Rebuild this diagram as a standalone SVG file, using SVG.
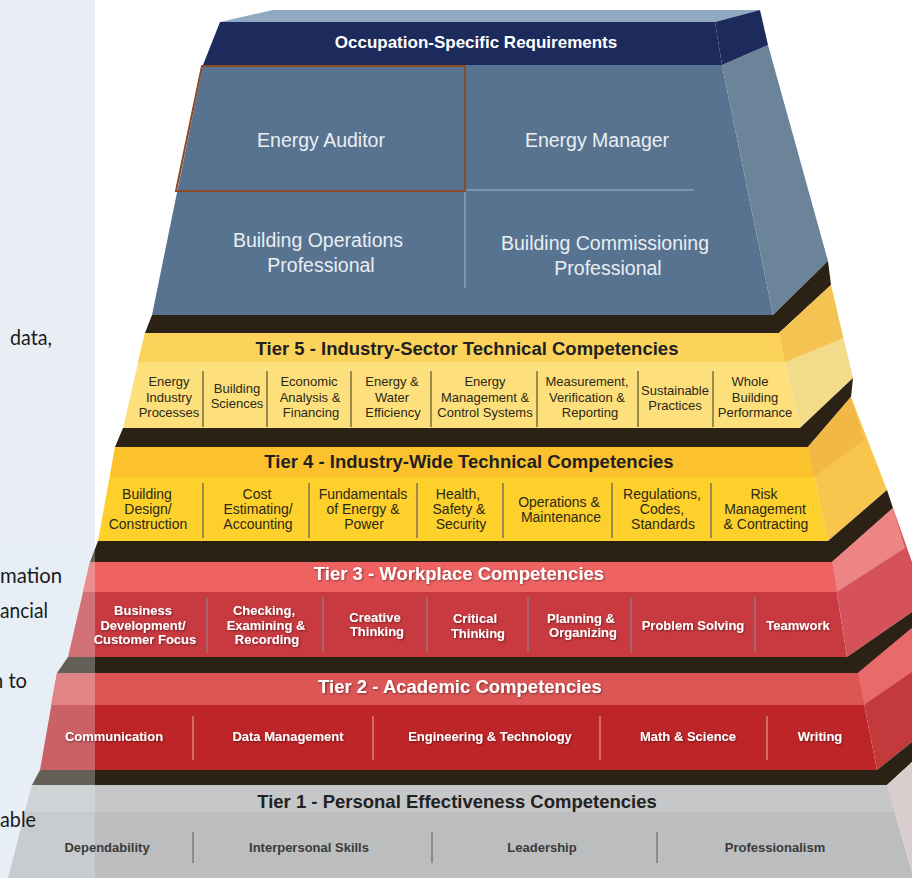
<svg xmlns="http://www.w3.org/2000/svg" width="912" height="878" viewBox="0 0 912 878">
  <defs>
    <style>
      .side-text { font-family: Lato, "Liberation Sans", sans-serif; font-size: 22px; fill: #1b1b1b; }
      .band { fill: #2b2114; }
      .veil { fill: #e9eef5; opacity: 0.3; }
      .title { font-family: "Liberation Sans", Arial, sans-serif; font-weight: bold; font-size: 18.5px; text-anchor: middle; }
      .occ { font-family: "Liberation Sans", Arial, sans-serif; font-size: 19.5px; fill: #e9eef3; text-anchor: middle; }
      .t5 { font-family: "Liberation Sans", Arial, sans-serif; font-size: 13px; fill: #2c2818; text-anchor: middle; }
      .t4 { font-family: "Liberation Sans", Arial, sans-serif; font-size: 14px; fill: #2c2818; text-anchor: middle; }
      .tw { font-family: "Liberation Sans", Arial, sans-serif; font-weight: bold; font-size: 13px; fill: #ffffff; text-anchor: middle; }
      .t1 { font-family: "Liberation Sans", Arial, sans-serif; font-weight: bold; font-size: 13px; fill: #3a3a3a; text-anchor: middle; }
      .sep-y { stroke: #9c8a4c; stroke-width: 2; }
      .sep-r3 { stroke: #a9646a; stroke-width: 2; }
      .sep-r2 { stroke: #d46b6b; stroke-width: 2; }
      .sep-g { stroke: #8c8c8c; stroke-width: 2; }
    </style>
    <filter id="shadow" x="-10%" y="-30%" width="120%" height="160%">
      <feDropShadow dx="1" dy="1" stdDeviation="0.8" flood-color="#000000" flood-opacity="0.45"/>
    </filter>
  </defs>

  <!-- page background with the pale side panel -->
  <rect x="0" y="0" width="912" height="878" fill="#ffffff"/>
  <rect x="0" y="0" width="95" height="878" fill="#e9eef5"/>

  <!-- Occupation-specific block -->
  <g id="occupation-block">
    <polygon points="220,22 273,10 760,10 715,22" fill="#8fa9c0"/>
    <polygon points="203,65 722,65 773,315 152,315" fill="#58738f"/>
    <polygon points="722,65 768,45 828,261 773,315" fill="#6c8499"/>
    <polygon points="220,22 715,22 722,65 203,65" fill="#1c2b5c"/>
    <polygon points="715,22 760,10 768,45 722,65" fill="#1c2b5c"/>
    <line x1="465" y1="191" x2="465" y2="288" stroke="#8aa2b8" stroke-width="1.5"/>
    <line x1="465" y1="190" x2="694" y2="190" stroke="#8aa2b8" stroke-width="1.5"/>
    <polygon points="202,66 465,66 465,191 176,191" fill="none" stroke="#8b4a28" stroke-width="2"/>
    <text class="occ" x="476" y="48" style="font-weight:bold;font-size:17px;fill:#ffffff">Occupation-Specific Requirements</text>
    <text class="occ" x="321" y="147">Energy Auditor</text>
    <text class="occ" x="597" y="147">Energy Manager</text>
    <text class="occ" x="318" y="247">Building Operations</text>
    <text class="occ" x="321" y="272">Professional</text>
    <text class="occ" x="605" y="250">Building Commissioning</text>
    <text class="occ" x="608" y="275">Professional</text>
  </g>

  <!-- Tier 5 -->
  <g id="tier5">
    <polygon class="band" points="152,315 773,315 828,261 831,285 779,333 145,333"/>
    <polygon points="145,333 779,333 800,428 123,428" fill="#fde07c"/>
    <polygon points="145,333 779,333 785,362 138,362" fill="#fbd35a"/>
    <polygon points="779,333 831,285 853,378 800,428" fill="#f2dc8a"/>
    <polygon points="779,333 831,285 843,338 785,362" fill="#f4c352"/>
    <text class="title" x="467" y="355" fill="#231f20">Tier 5 - Industry-Sector Technical Competencies</text>
    <g class="sep-y">
      <line x1="203" y1="371" x2="203" y2="427"/>
      <line x1="267" y1="371" x2="267" y2="427"/>
      <line x1="351" y1="371" x2="351" y2="427"/>
      <line x1="431" y1="371" x2="431" y2="427"/>
      <line x1="537" y1="371" x2="537" y2="427"/>
      <line x1="638" y1="371" x2="638" y2="427"/>
      <line x1="713" y1="371" x2="713" y2="427"/>
    </g>
    <text class="t5" x="169" y="386">Energy</text>
    <text class="t5" x="169" y="401.5">Industry</text>
    <text class="t5" x="169" y="416.5">Processes</text>
    <text class="t5" x="237" y="393">Building</text>
    <text class="t5" x="237" y="408">Sciences</text>
    <text class="t5" x="309" y="386">Economic</text>
    <text class="t5" x="310" y="401.5">Analysis &amp;</text>
    <text class="t5" x="311" y="416.5">Financing</text>
    <text class="t5" x="392" y="386">Energy &amp;</text>
    <text class="t5" x="392" y="401.5">Water</text>
    <text class="t5" x="393" y="416.5">Efficiency</text>
    <text class="t5" x="485" y="386">Energy</text>
    <text class="t5" x="485" y="401.5">Management &amp;</text>
    <text class="t5" x="485" y="416.5">Control Systems</text>
    <text class="t5" x="587" y="386">Measurement,</text>
    <text class="t5" x="587" y="401.5">Verification &amp;</text>
    <text class="t5" x="590" y="416.5">Reporting</text>
    <text class="t5" x="675" y="395">Sustainable</text>
    <text class="t5" x="675" y="410">Practices</text>
    <text class="t5" x="750" y="386">Whole</text>
    <text class="t5" x="755" y="401.5">Building</text>
    <text class="t5" x="755" y="416.5">Performance</text>
  </g>

  <!-- Tier 4 -->
  <g id="tier4">
    <polygon class="band" points="123,428 800,428 853,378 851,397 808,447 115,447"/>
    <polygon points="115,447 808,447 828,541 98,541" fill="#fdd02b"/>
    <polygon points="115,447 808,447 814,477 110,477" fill="#fcc22d"/>
    <polygon points="808,447 851,397 887,490 828,541" fill="#f8c64c"/>
    <polygon points="808,447 851,397 864,440 814,477" fill="#f3b746"/>
    <text class="title" x="469" y="468" fill="#231f20">Tier 4 - Industry-Wide Technical Competencies</text>
    <g class="sep-y">
      <line x1="203" y1="483" x2="203" y2="538"/>
      <line x1="309" y1="483" x2="309" y2="538"/>
      <line x1="417" y1="483" x2="417" y2="538"/>
      <line x1="503" y1="483" x2="503" y2="538"/>
      <line x1="612" y1="483" x2="612" y2="538"/>
      <line x1="711" y1="483" x2="711" y2="538"/>
    </g>
    <text class="t4" x="147" y="499">Building</text>
    <text class="t4" x="148" y="514">Design/</text>
    <text class="t4" x="148" y="529">Construction</text>
    <text class="t4" x="257" y="499">Cost</text>
    <text class="t4" x="258" y="514">Estimating/</text>
    <text class="t4" x="258" y="529">Accounting</text>
    <text class="t4" x="363" y="499">Fundamentals</text>
    <text class="t4" x="363" y="514">of Energy &amp;</text>
    <text class="t4" x="364" y="529">Power</text>
    <text class="t4" x="458" y="499">Health,</text>
    <text class="t4" x="459" y="514">Safety &amp;</text>
    <text class="t4" x="461" y="529">Security</text>
    <text class="t4" x="559" y="507">Operations &amp;</text>
    <text class="t4" x="561" y="522">Maintenance</text>
    <text class="t4" x="662" y="499">Regulations,</text>
    <text class="t4" x="662" y="514">Codes,</text>
    <text class="t4" x="663" y="529">Standards</text>
    <text class="t4" x="764" y="499">Risk</text>
    <text class="t4" x="765" y="514">Management</text>
    <text class="t4" x="766" y="529">&amp; Contracting</text>
  </g>

  <!-- Tier 3 -->
  <g id="tier3">
    <polygon class="band" points="98,541 828,541 887,490 893,508 832,562 90,562"/>
    <polygon points="90,562 832,562 847,657 68,657" fill="#c83a40"/>
    <polygon points="90,562 832,562 837,592 83,592" fill="#ef6262"/>
    <polygon points="832,562 893,508 912,562 912,612 847,657" fill="#d5525a"/>
    <polygon points="832,562 893,508 905,548 837,592" fill="#ee8585"/>
    <rect class="veil" x="0" y="541" width="95" height="116"/>
    <text class="title" x="459" y="580" fill="#ffffff" filter="url(#shadow)">Tier 3 - Workplace Competencies</text>
    <g class="sep-r3">
      <line x1="207" y1="597" x2="207" y2="653"/>
      <line x1="323" y1="597" x2="323" y2="653"/>
      <line x1="427" y1="597" x2="427" y2="653"/>
      <line x1="528" y1="597" x2="528" y2="653"/>
      <line x1="631" y1="597" x2="631" y2="653"/>
      <line x1="755" y1="597" x2="755" y2="653"/>
    </g>
    <g filter="url(#shadow)">
      <text class="tw" x="143" y="615">Business</text>
      <text class="tw" x="143" y="629.5">Development/</text>
      <text class="tw" x="145" y="644">Customer Focus</text>
      <text class="tw" x="264" y="615">Checking,</text>
      <text class="tw" x="266" y="629.5">Examining &amp;</text>
      <text class="tw" x="267" y="644">Recording</text>
      <text class="tw" x="375" y="622">Creative</text>
      <text class="tw" x="377" y="636">Thinking</text>
      <text class="tw" x="475" y="623">Critical</text>
      <text class="tw" x="478" y="638">Thinking</text>
      <text class="tw" x="581" y="623">Planning &amp;</text>
      <text class="tw" x="583" y="637">Organizing</text>
      <text class="tw" x="693" y="630">Problem Solving</text>
      <text class="tw" x="798" y="630">Teamwork</text>
    </g>
  </g>

  <!-- Tier 2 -->
  <g id="tier2">
    <polygon class="band" points="68,657 847,657 912,612 912,628 858,673 57,673"/>
    <polygon points="57,673 858,673 877,770 40,770" fill="#be2528"/>
    <polygon points="57,673 858,673 864,705 51,705" fill="#dd5656"/>
    <polygon points="858,673 912,628 912,742 877,770" fill="#c43a3c"/>
    <polygon points="858,673 912,628 912,672 864,705" fill="#e86a6a"/>
    <rect class="veil" x="0" y="657" width="95" height="113"/>
    <text class="title" x="460" y="693" fill="#ffffff" filter="url(#shadow)">Tier 2 - Academic Competencies</text>
    <g class="sep-r2">
      <line x1="193" y1="716" x2="193" y2="760"/>
      <line x1="373" y1="716" x2="373" y2="760"/>
      <line x1="600" y1="716" x2="600" y2="760"/>
      <line x1="767" y1="716" x2="767" y2="760"/>
    </g>
    <g filter="url(#shadow)">
      <text class="tw" x="114" y="741">Communication</text>
      <text class="tw" x="288" y="741">Data Management</text>
      <text class="tw" x="490" y="741">Engineering &amp; Technology</text>
      <text class="tw" x="688" y="741">Math &amp; Science</text>
      <text class="tw" x="820" y="741">Writing</text>
    </g>
  </g>

  <!-- Tier 1 -->
  <g id="tier1">
    <polygon class="band" points="40,770 877,770 912,742 912,762 887,785 32,785"/>
    <polygon points="32,785 887,785 912,872 912,878 8,878" fill="#bcbdbf"/>
    <polygon points="32,785 887,785 895,812 25,812" fill="#c6c7c9"/>
    <polygon points="887,785 912,762 912,872" fill="#d9cdcd"/>
    <rect class="veil" x="0" y="770" width="95" height="108"/>
    <text class="title" x="457" y="808" fill="#222222">Tier 1 - Personal Effectiveness Competencies</text>
    <g class="sep-g">
      <line x1="193" y1="832" x2="193" y2="863"/>
      <line x1="432" y1="832" x2="432" y2="863"/>
      <line x1="657" y1="832" x2="657" y2="863"/>
    </g>
    <text class="t1" x="107" y="852">Dependability</text>
    <text class="t1" x="309" y="852">Interpersonal Skills</text>
    <text class="t1" x="542" y="852">Leadership</text>
    <text class="t1" x="775" y="852">Professionalism</text>
  </g>

  <!-- text on the side panel -->
  <g id="side-panel-text">
    <text class="side-text" x="10" y="345" textLength="42" lengthAdjust="spacingAndGlyphs">data,</text>
    <text class="side-text" x="0" y="583" textLength="62" lengthAdjust="spacingAndGlyphs">mation</text>
    <text class="side-text" x="0" y="618" textLength="48" lengthAdjust="spacingAndGlyphs">ancial</text>
    <text class="side-text" x="-8" y="688" textLength="35" lengthAdjust="spacingAndGlyphs">n to</text>
    <text class="side-text" x="0" y="827" textLength="36" lengthAdjust="spacingAndGlyphs">able</text>
  </g>
</svg>
